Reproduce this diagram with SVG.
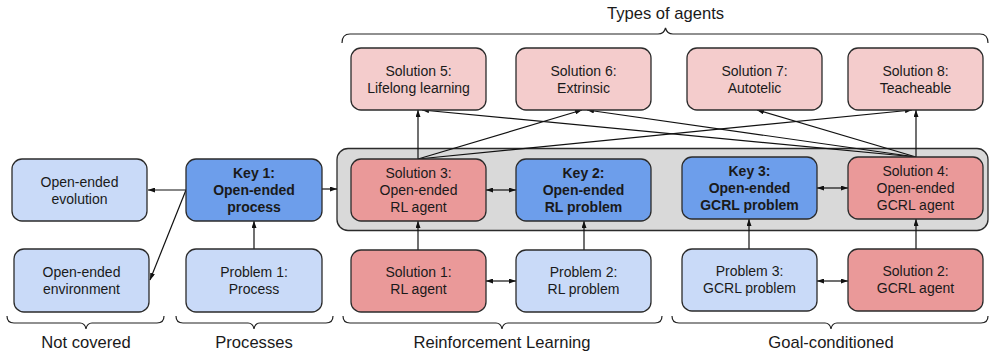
<svg xmlns="http://www.w3.org/2000/svg" width="989" height="352" viewBox="0 0 989 352">
<defs>
<marker id="ah" viewBox="0 0 7 5" refX="7" refY="2.5" markerWidth="7" markerHeight="5" markerUnits="userSpaceOnUse" orient="auto-start-reverse">
<path d="M0,0 L7,2.5 L0,5 z" fill="#111"/>
</marker>
</defs>
<style>
.n{stroke:#2b2b2b;stroke-width:1.3}
.lb{fill:#c9daf8}
.db{fill:#6d9eeb}
.lr{fill:#f4cccc}
.dr{fill:#ea9999}
text{font-family:"Liberation Sans",Arial,sans-serif;fill:#1a1a1a;text-anchor:middle}
.t{font-size:14px}
.b{font-size:14px;font-weight:bold}
.g{font-size:16.6px}
.c{stroke:#111;stroke-width:1.2;fill:none}
.a{marker-end:url(#ah)}
.d{marker-start:url(#ah);marker-end:url(#ah)}
.br{stroke:#222;stroke-width:1.2;fill:none}
</style>

<g id="container"><rect x="337" y="148.5" width="651" height="82" rx="11" fill="#d9d9d9" stroke="#2b2b2b" stroke-width="1.3"/></g>

<g id="braces">
<path class="br" d="M342,43 Q342,34 350,34 L658,34 Q664,34 665.5,28 Q667,34 673,34 L980,34 Q988,34 988,43"/>
<path class="br" d="M7,316 Q7,323 14,323 L80,323 Q85,323 86,329 Q87,323 92,323 L157,323 Q164,323 164,316"/>
<path class="br" d="M176,316 Q176,323 183,323 L248,323 Q253,323 254,329 Q255,323 260,323 L326,323 Q333,323 333,316"/>
<path class="br" d="M343,316 Q343,323 350,323 L496,323 Q501,323 502,329 Q503,323 508,323 L655,323 Q662,323 662,316"/>
<path class="br" d="M672,316 Q672,323 679,323 L825,323 Q830,323 831,329 Q832,323 837,323 L981,323 Q988,323 988,316"/>
<text class="g" x="665.5" y="19">Types of agents</text>
<text class="g" x="86" y="348">Not covered</text>
<text class="g" x="254" y="348">Processes</text>
<text class="g" x="502" y="348">Reinforcement Learning</text>
<text class="g" x="831" y="348">Goal-conditioned</text>
</g>

<g id="connectors">
<line class="c a" x1="186" y1="190" x2="148" y2="190"/>
<line class="c a" x1="186" y1="190" x2="150" y2="280"/>
<line class="c a" x1="322" y1="189" x2="337" y2="189"/>
<line class="c a" x1="254" y1="249" x2="254" y2="221"/>
<line class="c a" x1="418" y1="250" x2="418" y2="221"/>
<line class="c a" x1="584" y1="250" x2="584" y2="221"/>
<line class="c d" x1="486" y1="190" x2="516" y2="190"/>
<line class="c d" x1="486" y1="281" x2="516" y2="281"/>
<line class="c d" x1="817" y1="188" x2="848" y2="188"/>
<line class="c d" x1="817" y1="281" x2="848" y2="281"/>
<line class="c a" x1="749" y1="249" x2="749" y2="219"/>
<line class="c a" x1="916" y1="249" x2="916" y2="219"/>
<line class="c a" x1="418" y1="159" x2="418" y2="110"/>
<line class="c a" x1="418" y1="159" x2="582" y2="110"/>
<line class="c a" x1="418" y1="159" x2="912" y2="110"/>
<line class="c a" x1="916" y1="157" x2="422" y2="110"/>
<line class="c a" x1="916" y1="157" x2="587" y2="110"/>
<line class="c a" x1="916" y1="157" x2="757" y2="110"/>
<line class="c a" x1="916" y1="157" x2="916" y2="110"/>
</g>

<g id="oe-evolution"><rect class="n lb" x="12" y="159" width="135" height="62" rx="10"/>
<text class="t" x="79.5" y="187">Open-ended</text><text class="t" x="79.5" y="204">evolution</text></g>

<g id="oe-environment"><rect class="n lb" x="14" y="249" width="135" height="63" rx="10"/>
<text class="t" x="81.5" y="277">Open-ended</text><text class="t" x="81.5" y="294">environment</text></g>

<g id="key1"><rect class="n db" x="186" y="159" width="136" height="62" rx="10"/>
<text class="b" x="254" y="178">Key 1:</text><text class="b" x="254" y="195">Open-ended</text><text class="b" x="254" y="212">process</text></g>

<g id="problem1"><rect class="n lb" x="186" y="249" width="136" height="63" rx="10"/>
<text class="t" x="254" y="277">Problem 1:</text><text class="t" x="254" y="294">Process</text></g>

<g id="solution3"><rect class="n dr" x="351" y="159" width="135" height="62" rx="10"/>
<text class="t" x="418.5" y="178">Solution 3:</text><text class="t" x="418.5" y="195">Open-ended</text><text class="t" x="418.5" y="212">RL agent</text></g>

<g id="key2"><rect class="n db" x="516" y="159" width="135" height="62" rx="10"/>
<text class="b" x="583.5" y="178">Key 2:</text><text class="b" x="583.5" y="195">Open-ended</text><text class="b" x="583.5" y="212">RL problem</text></g>

<g id="solution1"><rect class="n dr" x="351" y="250" width="135" height="62" rx="10"/>
<text class="t" x="418.5" y="277">Solution 1:</text><text class="t" x="418.5" y="294">RL agent</text></g>

<g id="problem2"><rect class="n lb" x="516" y="250" width="135" height="62" rx="10"/>
<text class="t" x="583.5" y="277">Problem 2:</text><text class="t" x="583.5" y="294">RL problem</text></g>

<g id="key3"><rect class="n db" x="682" y="157" width="135" height="62" rx="10"/>
<text class="b" x="749.5" y="176">Key 3:</text><text class="b" x="749.5" y="193">Open-ended</text><text class="b" x="749.5" y="210">GCRL problem</text></g>

<g id="solution4"><rect class="n dr" x="848" y="157" width="135" height="62" rx="10"/>
<text class="t" x="915.5" y="176">Solution 4:</text><text class="t" x="915.5" y="193">Open-ended</text><text class="t" x="915.5" y="210">GCRL agent</text></g>

<g id="problem3"><rect class="n lb" x="682" y="249" width="135" height="62" rx="10"/>
<text class="t" x="749.5" y="276">Problem 3:</text><text class="t" x="749.5" y="293">GCRL problem</text></g>

<g id="solution2"><rect class="n dr" x="848" y="249" width="135" height="62" rx="10"/>
<text class="t" x="915.5" y="276">Solution 2:</text><text class="t" x="915.5" y="293">GCRL agent</text></g>

<g id="solution5"><rect class="n lr" x="351" y="48" width="135" height="62" rx="10"/>
<text class="t" x="418.5" y="75.5">Solution 5:</text><text class="t" x="418.5" y="92.5">Lifelong learning</text></g>

<g id="solution6"><rect class="n lr" x="516" y="48" width="135" height="62" rx="10"/>
<text class="t" x="583.5" y="75.5">Solution 6:</text><text class="t" x="583.5" y="92.5">Extrinsic</text></g>

<g id="solution7"><rect class="n lr" x="687" y="48" width="135" height="62" rx="10"/>
<text class="t" x="754.5" y="75.5">Solution 7:</text><text class="t" x="754.5" y="92.5">Autotelic</text></g>

<g id="solution8"><rect class="n lr" x="848" y="48" width="135" height="62" rx="10"/>
<text class="t" x="915.5" y="75.5">Solution 8:</text><text class="t" x="915.5" y="92.5">Teacheable</text></g>
</svg>
